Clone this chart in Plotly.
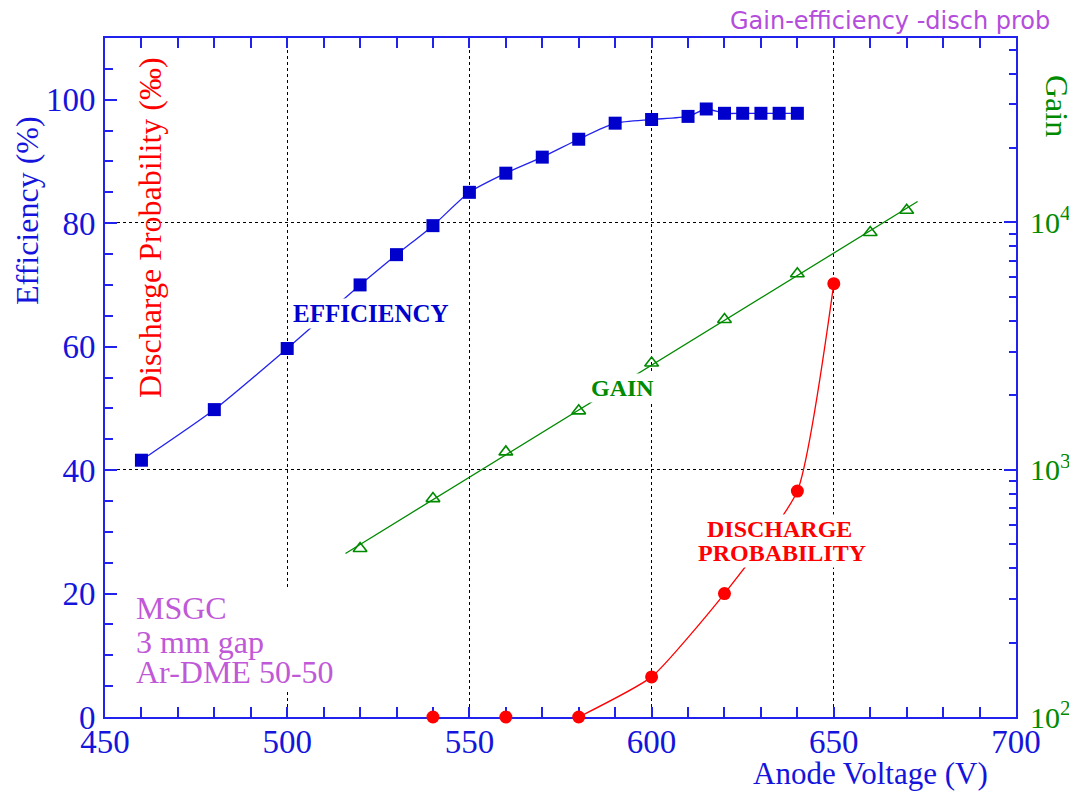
import numpy as np
import plotly.graph_objects as go

# ---------------- data ----------------
eff_voltage = [460, 480, 500, 520, 530, 540, 550, 560, 570, 580, 590, 600, 610, 615, 620, 625, 630, 635, 640]
efficiency = [41.6, 49.8, 59.7, 70.0, 74.9, 79.6, 85.0, 88.1, 90.7, 93.6, 96.2, 96.8, 97.3, 98.5, 97.8, 97.8, 97.8, 97.8, 97.8]

gain_voltage = [520, 540, 560, 580, 600, 620, 640, 660, 670]
gain = [480, 764, 1180, 1730, 2700, 4050, 6200, 9100, 11200]

disch_voltage = [540, 560, 580, 600, 620, 640, 650]
disch_prob = [0, 0, 0, 6.5, 20.0, 36.6, 70.2]

x_ticks = [450, 500, 550, 600, 650, 700]
y_ticks = [0, 20, 40, 60, 80, 100]
gain_ticks = [100, 1000, 10000]
gain_ticktext = ["10<sup>2</sup>", "10<sup>3</sup>", "10<sup>4</sup>"]
gain_minor = [m * 10 ** k for k in (2, 3, 4) for m in range(2, 10) if m * 10 ** k < 60000]

BLUE_AX = "#2222ee"
BLUE_TXT = "#1414dc"
BLUE = "#0000cc"
GREEN = "#008a00"
RED = "#ff0000"
PURPLE = "#c058d8"
SERIF = "Liberation Serif"

# exponential fit of the gain
coef = np.polyfit(gain_voltage, np.log10(gain), 1)
fit_x = np.linspace(min(gain_voltage) - 4, max(gain_voltage) + 3, 60)
fit_y = 10 ** np.polyval(coef, fit_x)

# discharge line starts at last zero before the rise
arr = np.array(disch_prob)
start = int(np.argmax(arr > 0)) - 1

fig = go.Figure()

fig.add_trace(go.Scatter(
    x=eff_voltage, y=efficiency, mode="lines+markers",
    line=dict(color=BLUE_AX, width=1.3, shape="spline", smoothing=0.6),
    marker=dict(symbol="square", size=13, color=BLUE),
    showlegend=False, cliponaxis=False,
))

fig.add_trace(go.Scatter(
    x=fit_x, y=fit_y, yaxis="y2", mode="lines",
    line=dict(color=GREEN, width=1.3), showlegend=False,
))
fig.add_trace(go.Scatter(
    x=gain_voltage, y=gain, yaxis="y2", mode="markers",
    marker=dict(symbol="triangle-up-open", size=12, color=GREEN, line=dict(width=1.6, color=GREEN)),
    showlegend=False,
))

fig.add_trace(go.Scatter(
    x=disch_voltage[start:], y=disch_prob[start:], mode="lines",
    line=dict(color=RED, width=1.3, shape="spline", smoothing=0.5),
    showlegend=False,
))
fig.add_trace(go.Scatter(
    x=disch_voltage, y=disch_prob, mode="markers",
    marker=dict(symbol="circle", size=13, color=RED),
    showlegend=False, cliponaxis=False,
))

# page body has an 8px margin: plot area placed so that it lands at x 105..1016, y 38..717
fig.update_layout(
    width=1069, height=788,
    margin=dict(l=97, r=61, t=30, b=79, autoexpand=False),
    paper_bgcolor="white", plot_bgcolor="white",
    font=dict(family=SERIF, size=32, color=BLUE_TXT),
    xaxis=dict(
        range=[450, 700], tickvals=x_ticks, ticks="inside", ticklen=10, tickwidth=1.5,
        tickcolor=BLUE_AX, showline=True, linecolor=BLUE_AX, linewidth=2, mirror="allticks",
        showgrid=True, gridcolor="black", griddash="dot", gridwidth=1, zeroline=False,
        minor=dict(dtick=10, ticks="inside", ticklen=6, tickwidth=1.5, tickcolor=BLUE_AX, showgrid=False),
        tickfont=dict(family=SERIF, size=33, color=BLUE_TXT), ticklabelstandoff=-6,
        layer="below traces", automargin=False,
    ),
    yaxis=dict(
        range=[0, 110], tickvals=y_ticks, ticks="inside", ticklen=12, tickwidth=1.5,
        tickcolor=BLUE_AX, showline=True, linecolor=BLUE_AX, linewidth=2, mirror=False,
        showgrid=False, zeroline=False,
        minor=dict(dtick=5, ticks="inside", ticklen=8, tickwidth=1.5, tickcolor=BLUE_AX, showgrid=False),
        tickfont=dict(family=SERIF, size=33, color=BLUE_TXT), ticklabelstandoff=1,
        layer="below traces", automargin=False,
    ),
    yaxis2=dict(
        type="log", range=[2, 4.7456], overlaying="y", side="right",
        tickvals=gain_ticks, ticktext=gain_ticktext, ticks="inside", ticklen=12, tickwidth=1.5,
        tickcolor=BLUE_AX, showline=True, linecolor=BLUE_AX, linewidth=2,
        showgrid=True, gridcolor="black", griddash="dot", gridwidth=1, zeroline=False,
        minor=dict(tickvals=gain_minor, ticks="inside", ticklen=7, tickwidth=1.5, tickcolor=BLUE_AX, showgrid=False),
        tickfont=dict(family=SERIF, size=30, color=GREEN), ticklabelstandoff=6,
        layer="below traces", automargin=False,
    ),
)

# helpers to convert reference-pixel positions into paper fractions
def px(xp):
    return (xp - 105) / 911


def py(yp):
    return (717 - yp) / 679


ann = []
ann.append(dict(text="Efficiency (%)", xref="paper", yref="paper", x=px(27), y=py(211),
                xanchor="center", yanchor="middle",
                textangle=-90, showarrow=False, font=dict(family=SERIF, size=32, color=BLUE_TXT)))
ann.append(dict(text="Discharge Probability (‰)", xref="paper", yref="paper", x=px(150), y=py(228),
                xanchor="center", yanchor="middle",
                textangle=-90, showarrow=False, font=dict(family=SERIF, size=32, color=RED)))
ann.append(dict(text="Gain", xref="paper", yref="paper", x=px(1057), y=py(106),
                xanchor="center", yanchor="middle",
                textangle=90, showarrow=False, font=dict(family=SERIF, size=32, color=GREEN)))
ann.append(dict(text="Anode Voltage (V)", xref="paper", yref="paper", x=px(990), y=py(773),
                xanchor="right", yanchor="middle", showarrow=False, font=dict(family=SERIF, size=31, color=BLUE_TXT)))
ann.append(dict(text="Gain-efficiency -disch prob", xref="paper", yref="paper", x=px(1052), y=py(21),
                xanchor="right", yanchor="middle", showarrow=False,
                font=dict(family="DejaVu Sans", size=24, color="#b44cdc")))

ann.append(dict(text="<b>EFFICIENCY</b>", x=523, y=65.3, xref="x", yref="y", showarrow=False,
                bgcolor="white", borderpad=1, font=dict(family=SERIF, size=25, color=BLUE)))
ann.append(dict(text="<b>GAIN</b>", x=591.9, y=53.3, xref="x", yref="y", showarrow=False,
                bgcolor="white", borderpad=1, font=dict(family=SERIF, size=24, color=GREEN)))
ann.append(dict(text="<b>DISCHARGE</b>", x=635.0, y=30.4, xref="x", yref="y", showarrow=False,
                bgcolor="white", borderpad=1, font=dict(family=SERIF, size=24, color=RED)))
ann.append(dict(text="<b>PROBABILITY</b>", x=635.8, y=26.5, xref="x", yref="y", showarrow=False,
                bgcolor="white", borderpad=1, font=dict(family=SERIF, size=24, color=RED)))

# bottom line first so that upper lines are drawn on top of lower boxes
for txt, yy in [("Ar-DME 50-50", 7.25), ("3 mm gap", 12.1), ("MSGC", 17.6)]:
    ann.append(dict(text=txt, x=458.2, y=yy, xref="x", yref="y", showarrow=False, xanchor="left",
                    width=205, align="left", bgcolor="white", borderpad=0,
                    font=dict(family=SERIF, size=32, color=PURPLE)))

fig.update_layout(annotations=ann)

fig.write_html("out.html")
